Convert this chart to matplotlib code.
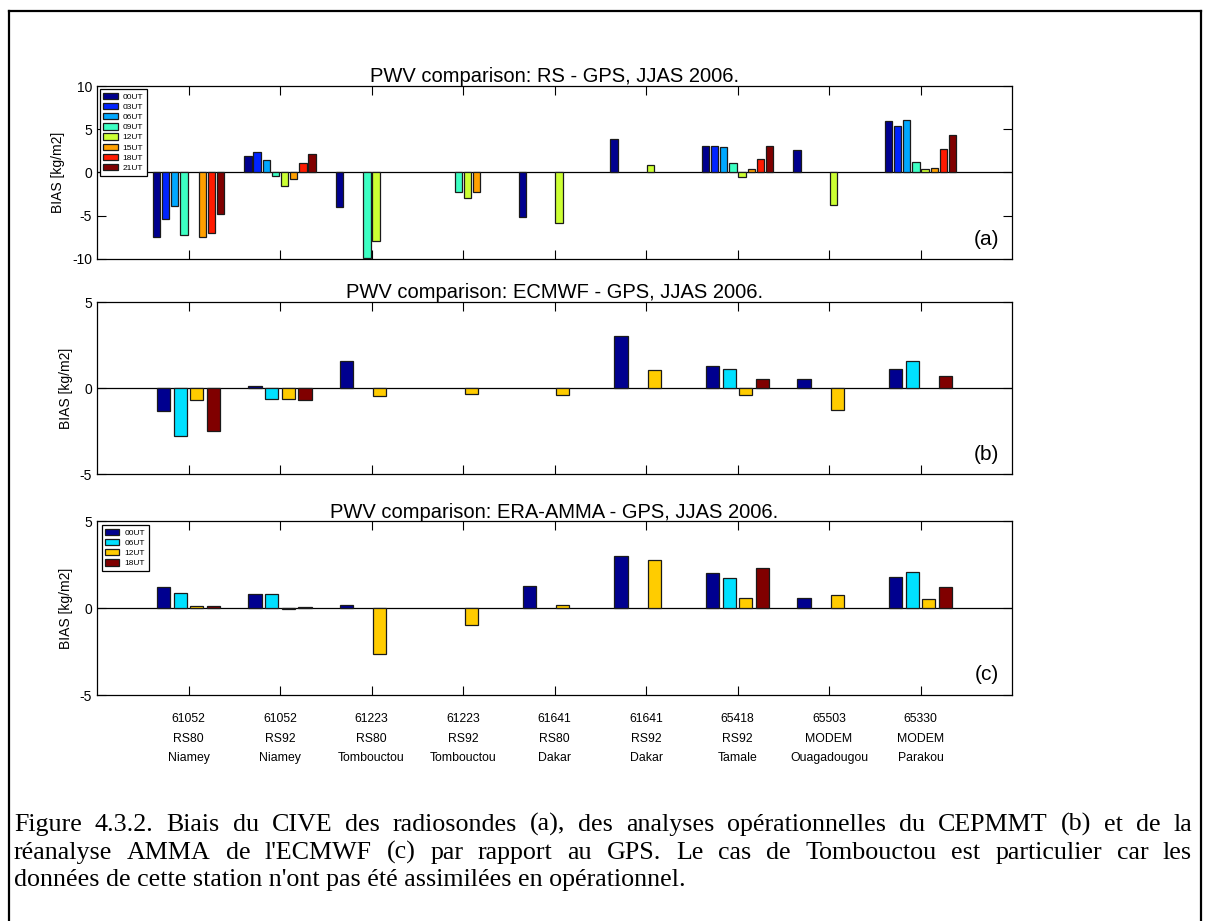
import numpy as np
import matplotlib
matplotlib.use("Agg")
import matplotlib.pyplot as plt
from matplotlib.lines import Line2D

# ---------------- data ----------------
stations = ["61052\nRS80\nNiamey", "61052\nRS92\nNiamey", "61223\nRS80\nTombouctou",
            "61223\nRS92\nTombouctou", "61641\nRS80\nDakar", "61641\nRS92\nDakar",
            "65418\nRS92\nTamale", "65503\nMODEM\nOuagadougou", "65330\nMODEM\nParakou"]

hours_a = ["00UT", "03UT", "06UT", "09UT", "12UT", "15UT", "18UT", "21UT"]
nan = np.nan
# RS - GPS bias, one list per hour (9 stations each)
rs_00 = [-7.5, 1.85, -3.95, nan, -5.1, 3.85, 3.1, 2.6, 5.9]
rs_03 = [-5.4, 2.35, nan, nan, nan, nan, 3.1, nan, 5.4]
rs_06 = [-3.9, 1.45, nan, nan, nan, nan, 2.95, nan, 6.1]
rs_09 = [-7.25, -0.4, -9.9, -2.25, nan, nan, 1.1, nan, 1.25]
rs_12 = [nan, -1.6, -7.95, -2.95, -5.8, 0.85, -0.5, -3.75, 0.4]
rs_15 = [-7.5, -0.75, nan, -2.25, nan, nan, 0.4, nan, 0.5]
rs_18 = [-7.05, 1.1, nan, nan, nan, nan, 1.6, nan, 2.7]
rs_21 = [-4.8, 2.1, nan, nan, nan, nan, 3.1, nan, 4.3]

hours_b = ["00UT", "06UT", "12UT", "18UT"]
# ECMWF - GPS bias
ec_00 = [-1.35, 0.12, 1.55, nan, nan, 3.0, 1.3, 0.5, 1.1]
ec_06 = [-2.8, -0.65, nan, nan, nan, nan, 1.1, nan, 1.55]
ec_12 = [-0.7, -0.65, -0.45, -0.33, -0.4, 1.05, -0.4, -1.25, nan]
ec_18 = [-2.5, -0.7, nan, nan, nan, nan, 0.55, nan, 0.68]

# ERA-AMMA - GPS bias
era_00 = [1.22, 0.78, 0.18, nan, 1.28, 3.0, 2.02, 0.6, 1.78]
era_06 = [0.85, 0.78, nan, nan, nan, nan, 1.7, nan, 2.08]
era_12 = [0.12, -0.08, -2.65, -0.95, 0.17, 2.75, 0.55, 0.72, 0.5]
era_18 = [0.12, 0.07, nan, nan, nan, nan, 2.32, nan, 1.22]

titles = ["PWV comparison: RS - GPS, JJAS 2006.",
          "PWV comparison: ECMWF - GPS, JJAS 2006.",
          "PWV comparison: ERA-AMMA - GPS, JJAS 2006."]
panel_tags = ["(a)", "(b)", "(c)"]
ylabel = "BIAS [kg/m2]"

caption_lines = [
    "Figure 4.3.2. Biais du CIVE des radiosondes (a), des analyses opérationnelles du CEPMMT (b) et de la",
    "réanalyse AMMA de l'ECMWF (c) par rapport au GPS. Le cas de Tombouctou est particulier car les",
    "données de cette station n'ont pas été assimilées en opérationnel.",
]

colors_a = ['#00008F', '#0024FF', '#00A8FF', '#3CFFC3', '#CCFF33', '#FFA000', '#FF1A00', '#800000']
colors_b = ['#00008F', '#00E0FF', '#FFCC00', '#800000']

# ---------------- figure ----------------
W, H = 1206, 921
plt.rcParams['font.family'] = ['Liberation Sans', 'DejaVu Sans']
plt.rcParams['axes.unicode_minus'] = False
fig = plt.figure(figsize=(W / 100, H / 100), dpi=100)
fig.patch.set_facecolor('white')


def px_axes(left, top, right, bottom):
    return fig.add_axes([left / W, 1 - bottom / H, (right - left) / W, (bottom - top) / H])


ax_a = px_axes(97, 86, 1012, 259)
ax_b = px_axes(97, 302, 1012, 474)
ax_c = px_axes(97, 521, 1012, 695)

x = np.arange(1, len(stations) + 1)


def grouped(ax, series, colors, labels, groupwidth):
    n = len(series)
    step = groupwidth / n
    bw = step * 0.8
    for i, (vals, c, lab) in enumerate(zip(series, colors, labels)):
        off = (i - (n - 1) / 2) * step
        ax.bar(x + off, np.array(vals, dtype=float), width=bw, color=c,
               edgecolor='#1a1a1a', linewidth=0.9, label=lab, zorder=3)


grouped(ax_a, [rs_00, rs_03, rs_06, rs_09, rs_12, rs_15, rs_18, rs_21], colors_a, hours_a, 0.8)
grouped(ax_b, [ec_00, ec_06, ec_12, ec_18], colors_b, hours_b, 4 / 5.5)
grouped(ax_c, [era_00, era_06, era_12, era_18], colors_b, hours_b, 4 / 5.5)

for ax, lim, ticks, title, tag in zip([ax_a, ax_b, ax_c], [(-10, 10), (-5, 5), (-5, 5)],
                                     [[-10, -5, 0, 5, 10], [-5, 0, 5], [-5, 0, 5]],
                                     titles, panel_tags):
    ax.set_xlim(0, 10)
    ax.set_ylim(*lim)
    ax.set_yticks(ticks)
    ax.set_xticks(x)
    ax.axhline(0, color='black', lw=0.9, zorder=2)
    ax.tick_params(direction='in', length=6.5, width=0.8, top=True, right=True,
                   labelsize=10, pad=3.5, colors='black')
    for s in ax.spines.values():
        s.set_linewidth(0.9)
        s.set_color('black')
    ax.set_title(title, fontsize=14.5, pad=2.5)
    ax.set_ylabel(ylabel, fontsize=10, labelpad=5)
    ax.text(0.972, 0.115, tag, transform=ax.transAxes, fontsize=15,
            ha='center', va='center')

ax_a.set_xticklabels([])
ax_b.set_xticklabels([])
ax_c.set_xticklabels(stations, fontsize=8.8, linespacing=1.85)
ax_c.tick_params(axis='x', pad=13)

leg_kw = dict(loc='upper left', fontsize=6, frameon=True, fancybox=False,
              edgecolor='black', handlelength=1.7, handleheight=0.8,
              labelspacing=0.25, handletextpad=0.6, borderpad=0.45,
              borderaxespad=0)
la = ax_a.legend(bbox_to_anchor=(0.003, 0.983), **leg_kw)
lc = ax_c.legend(bbox_to_anchor=(0.005, 0.977), **leg_kw)
for lg in (la, lc):
    lg.get_frame().set_linewidth(0.9)
    lg.get_frame().set_alpha(1)

# outer frame
for (x0, y0, x1, y1) in [(9, 11, 1201, 11), (9, 11, 9, 921), (1201, 11, 1201, 921)]:
    fig.add_artist(Line2D([x0 / W, x1 / W], [1 - y0 / H, 1 - y1 / H],
                          transform=fig.transFigure, color='black', lw=1.6))

# caption (justified first two lines)
cap_font = dict(family=['Liberation Serif', 'DejaVu Serif'], fontsize=18.7)
renderer = fig.canvas.get_renderer()
x_left, x_right = 14, 1192
baselines = [831, 859, 886]
for li, (line, yb) in enumerate(zip(caption_lines, baselines)):
    if li < 2:
        words = line.split(' ')
        texts = [fig.text(0, 1 - yb / H, w, va='baseline', ha='left', **cap_font) for w in words]
        widths = [t.get_window_extent(renderer).width for t in texts]
        gap = (x_right - x_left - sum(widths)) / (len(words) - 1)
        cur = x_left
        for t, w in zip(texts, widths):
            t.set_x(cur / W)
            cur += w + gap
    else:
        fig.text(x_left / W, 1 - yb / H, line, va='baseline', ha='left', **cap_font)

fig.savefig("out.png", dpi=100, facecolor='white')
